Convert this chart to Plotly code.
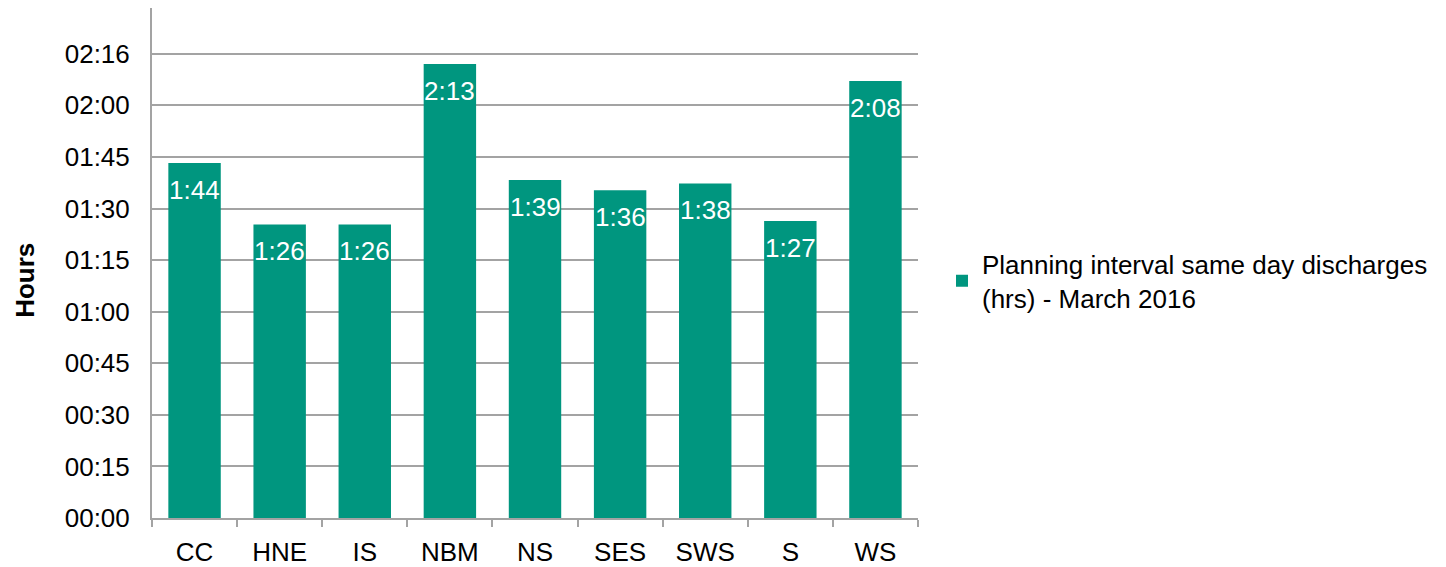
import plotly.graph_objects as go

categories = ["CC", "HNE", "IS", "NBM", "NS", "SES", "SWS", "S", "WS"]
minutes = [104, 86, 86, 133, 99, 96, 98, 87, 128]
value_labels = ["1:44", "1:26", "1:26", "2:13", "1:39", "1:36", "1:38", "1:27", "2:08"]
tick_labels = ["00:00", "00:15", "00:30", "00:45", "01:00", "01:15", "01:30", "01:45", "02:00", "02:16"]
major_unit = 136 / 9  # minutes per axis step (Excel time axis)
series_name = "Planning interval same day discharges<br>(hrs) - March 2016"

FONT = "Liberation Sans, Arial, sans-serif"
FS = 26
BAR = "#00967F"
GRID = "#a3a3a3"

# page body has an 8px margin, so the figure is sized/offset to compensate
L, R, T, B = 144, 528, 0, 45
W, H = 1438, 559
PW = W - L - R

fig = go.Figure()
fig.add_trace(go.Bar(
    x=categories, y=minutes, name=series_name,
    marker=dict(color=BAR, line=dict(width=0)),
    showlegend=True,
))

for c, v, t in zip(categories, minutes, value_labels):
    fig.add_annotation(x=c, y=v, text=t, showarrow=False, yanchor="top", yshift=-10,
                       font=dict(family=FONT, size=FS, color="white"))

fig.add_annotation(xref="paper", yref="paper", x=(17 - L) / PW, y=0.465,
                   xanchor="center", yanchor="middle",
                   text="<b>Hours</b>", textangle=-90, showarrow=False,
                   font=dict(family=FONT, size=FS, color="black"))

fig.update_layout(
    width=W, height=H,
    margin=dict(l=L, r=R, t=T, b=B),
    plot_bgcolor="white", paper_bgcolor="white",
    bargap=0.384,
    font=dict(family=FONT, size=FS, color="black"),
    legend=dict(x=(934 - L) / PW, y=0.465, xanchor="left", yanchor="middle",
                font=dict(family=FONT, size=FS, color="black")),
    xaxis=dict(showline=True, linecolor=GRID, linewidth=2,
               ticks="outside", tickson="boundaries", ticklen=7, tickcolor=GRID, tickwidth=2,
               ticklabelstandoff=10,
               tickfont=dict(family=FONT, size=FS, color="black"), showgrid=False),
    yaxis=dict(range=[0, 149.4], showline=True, linecolor=GRID, linewidth=2,
               tickvals=[k * major_unit for k in range(len(tick_labels))], ticktext=tick_labels,
               ticks="inside", ticklen=8, tickcolor=GRID, tickwidth=2,
               ticklabelstandoff=15,
               showgrid=True, gridcolor=GRID, gridwidth=2, zeroline=False,
               tickfont=dict(family=FONT, size=FS, color="black")),
)

fig.write_html("out.html")
